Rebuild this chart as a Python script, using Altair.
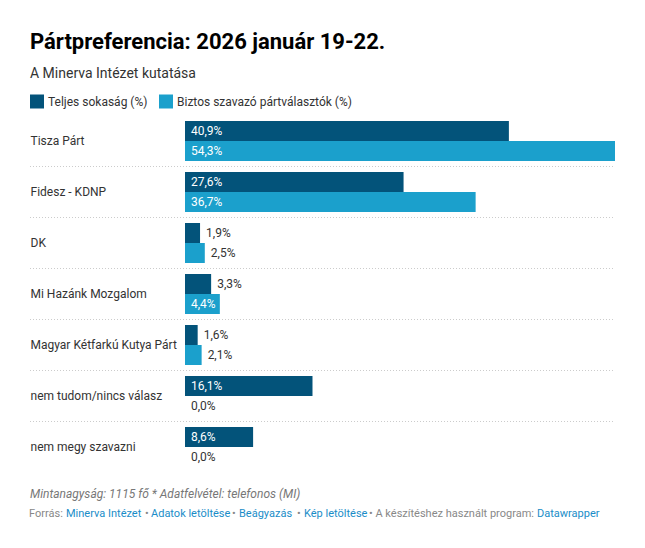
import altair as alt
import pandas as pd

parties = ["Tisza Párt", "Fidesz - KDNP", "DK", "Mi Hazánk Mozgalom",
           "Magyar Kétfarkú Kutya Párt", "nem tudom/nincs válasz", "nem megy szavazni"]
teljes = [40.9, 27.6, 1.9, 3.3, 1.6, 16.1, 8.6]
biztos = [54.3, 36.7, 2.5, 4.4, 2.1, 0.0, 0.0]
series = ["Teljes sokaság (%)", "Biztos szavazó pártválasztók (%)"]
colors = ["#03537a", "#1ba0cc"]

rows = []
for p, a, b in zip(parties, teljes, biztos):
    rows.append({"party": p, "series": series[0], "value": a})
    rows.append({"party": p, "series": series[1], "value": b})
df = pd.DataFrame(rows)
df["label"] = df["value"].map(lambda v: f"{v:.1f}".replace(".", ",") + "%")

FONT = "Roboto"

y_enc = alt.Y("party:N", sort=parties,
              scale=alt.Scale(paddingInner=0, paddingOuter=0),
              axis=alt.Axis(title=None, ticks=False, domain=False, labelAlign="left",
                            labelPadding=155, labelFontSize=12, labelColor="#333",
                            labelFont=FONT, labelLimit=160))
yoff = alt.YOffset("series:N", sort=series,
                   scale=alt.Scale(paddingInner=0, paddingOuter=0.275))
x_scale = alt.Scale(domain=[0, 54.3], nice=False)

base = alt.Chart(df)

bars = base.mark_bar().encode(
    y=y_enc,
    yOffset=yoff,
    x=alt.X("value:Q", scale=x_scale, axis=None),
    color=alt.Color("series:N", sort=series,
                    scale=alt.Scale(domain=series, range=colors),
                    legend=alt.Legend(title=None, orient="none", legendX=-155, legendY=-21,
                                      direction="horizontal", symbolType="square",
                                      symbolSize=196, symbolStrokeWidth=0, symbolOpacity=1,
                                      labelFontSize=12, labelFont=FONT, labelColor="#333",
                                      labelLimit=400,
                                      columnPadding=11, padding=0, labelOffset=4)),
)

labels = base.transform_calculate(
    lx="datum.value >= 4 ? 0 : datum.value"
).mark_text(align="left", baseline="middle", dx=6, fontSize=12, font=FONT).encode(
    y=alt.Y("party:N", sort=parties),
    yOffset=yoff,
    x=alt.X("lx:Q", scale=x_scale, axis=None),
    text="label:N",
    color=alt.condition("datum.value >= 4", alt.value("white"), alt.value("#333")),
)

seps = base.transform_filter(
    alt.FieldOneOfPredicate(field="party", oneOf=parties[1:])
).transform_filter("datum.series == '" + series[0] + "'").mark_rule(
    color="#cccccc", strokeDash=[1, 2], strokeWidth=1
).encode(
    y=alt.Y("party:N", sort=parties, bandPosition=0),
    x=alt.value(-155),
    x2=alt.value(430),
)

note1 = alt.Chart(pd.DataFrame({"t": ["Mintanagyság: 1115 fő * Adatfelvétel: telefonos (MI)"]})).mark_text(
    align="left", baseline="alphabetic", fontSize=12, font=FONT, fontStyle="italic", color="#777"
).encode(x=alt.value(-155), y=alt.value(382.5), text="t:N")

footer_parts = [
    ("Forrás:", -156, "#888"),
    ("Minerva Intézet", -119, "#1a8dc8"),
    ("•", -40, "#888"),
    ("Adatok letöltése", -34, "#1a8dc8"),
    ("•", 47, "#888"),
    ("Beágyazás", 54, "#1a8dc8"),
    ("•", 112, "#888"),
    ("Kép letöltése", 119, "#1a8dc8"),
    ("• A készítéshez használt program:", 184, "#888"),
    ("Datawrapper", 352, "#1a8dc8"),
]
footer_layers = []
for txt, px, col in footer_parts:
    footer_layers.append(
        alt.Chart(pd.DataFrame({"t": [txt]})).mark_text(
            align="left", baseline="alphabetic", fontSize=11, font=FONT, color=col
        ).encode(x=alt.value(px), y=alt.value(401), text="t:N")
    )

chart = alt.layer(seps, bars, labels, note1, *footer_layers).properties(
    width=430, height=357,
    autosize=alt.AutoSizeParams(type="none"),
    padding={"left": 177, "top": 107.5, "right": 22, "bottom": 60},
    title=alt.TitleParams(
        text="Pártpreferencia: 2026 január 19-22.",
        subtitle="A Minerva Intézet kutatása",
        anchor="start", frame="group", dx=-155, offset=13,
        font=FONT, fontSize=22, fontWeight="bold", color="#000",
        subtitleFont=FONT, subtitleFontSize=14, subtitleColor="#333", subtitlePadding=13,
    ),
).configure(font=FONT).configure_view(strokeWidth=0, stroke="transparent")

chart.save("out.html", embed_options={"renderer": "svg", "actions": False})
